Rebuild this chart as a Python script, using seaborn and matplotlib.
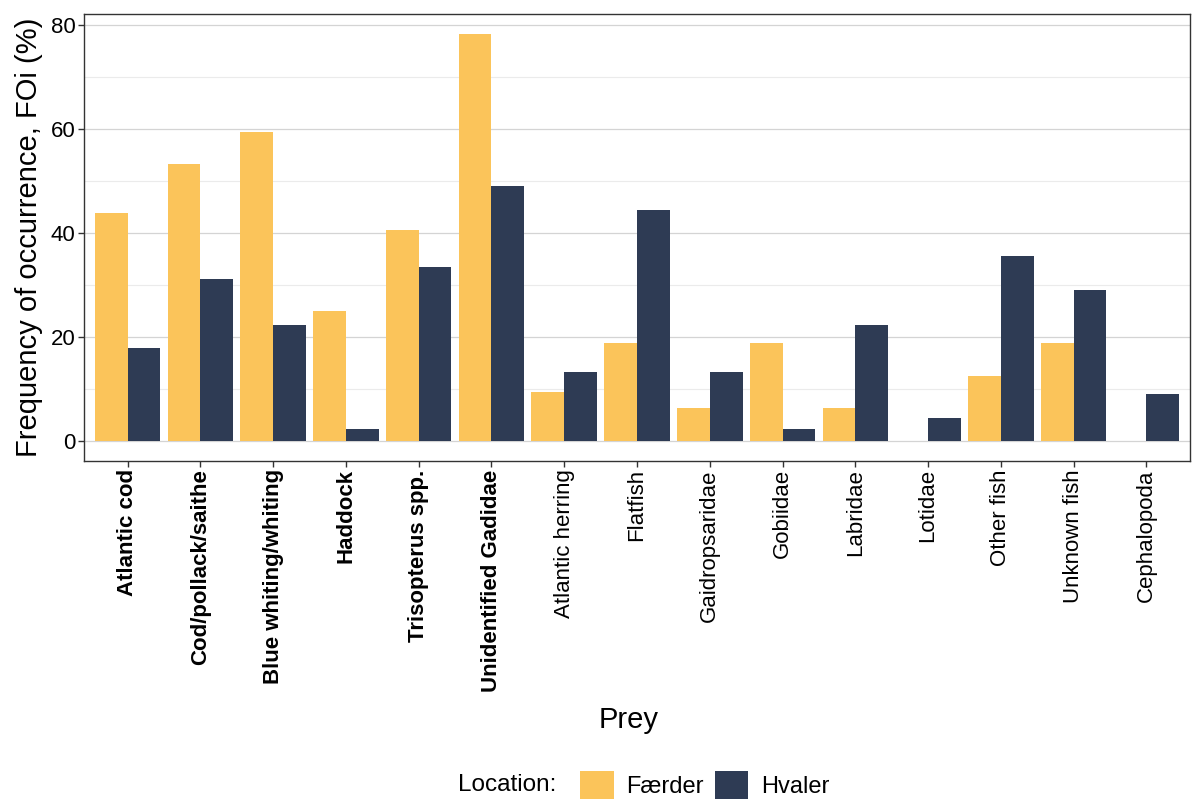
import pandas as pd
import matplotlib.pyplot as plt
import seaborn as sns
from matplotlib.patches import Patch
from matplotlib.ticker import MultipleLocator

# ----------------------------
# DATA
# ----------------------------
prey = ["Atlantic cod", "Cod/pollack/saithe", "Blue whiting/whiting", "Haddock",
        "Trisopterus spp.", "Unidentified Gadidae", "Atlantic herring", "Flatfish",
        "Gaidropsaridae", "Gobiidae", "Labridae", "Lotidae", "Other fish",
        "Unknown fish", "Cephalopoda"]
faerder = [43.75, 53.1, 59.4, 25.0, 40.6, 78.1, 9.4, 18.75, 6.25, 18.75, 6.25, 0.0, 12.5, 18.75, 0.0]
hvaler = [17.8, 31.1, 22.2, 2.2, 33.3, 48.9, 13.3, 44.4, 13.3, 2.2, 22.2, 4.4, 35.6, 28.9, 8.9]
locations = ["Færder", "Hvaler"]
bold_prey = prey[:6]

df = pd.DataFrame({
    "Prey": prey * 2,
    "FOi": faerder + hvaler,
    "Location": [locations[0]] * len(prey) + [locations[1]] * len(prey),
})

colors = ["#FBC45A", "#2E3B54"]

# ----------------------------
# PLOT
# ----------------------------
sns.set_style("white")
plt.rcParams["font.family"] = ["Liberation Sans", "DejaVu Sans"]
plt.rcParams["text.color"] = "black"
plt.rcParams["axes.labelcolor"] = "black"

fig = plt.figure(figsize=(11.95, 7.99), dpi=100)
ax = fig.add_axes([84 / 1195, 1 - 461 / 799, (1190 - 84) / 1195, (461 - 14) / 799])

sns.barplot(data=df, x="Prey", y="FOi", hue="Location", order=prey,
            hue_order=locations, palette=colors, saturation=1, width=0.9,
            gap=0, linewidth=0, legend=False, ax=ax)

ax.set_xlim(-0.6, len(prey) - 0.4)
ax.set_ylim(-3.9, 82.03)
ax.yaxis.set_major_locator(MultipleLocator(20))
ax.yaxis.set_minor_locator(MultipleLocator(10))
ax.grid(axis="y", which="major", color="#D4D4D4", linewidth=0.9)
ax.grid(axis="y", which="minor", color="#EBEBEB", linewidth=0.8)
ax.set_axisbelow(True)

for s in ax.spines.values():
    s.set_color("#333333")
    s.set_linewidth(1.0)

ax.tick_params(axis="both", which="major", length=4, width=1, color="#333333",
               labelsize=16, labelcolor="black", direction="out",
               bottom=True, left=True)
ax.tick_params(axis="y", which="minor", length=0)
ax.tick_params(axis="x", pad=2)
ax.tick_params(axis="y", pad=2)
ax.set_xticks(range(len(prey)))
ax.set_xticklabels(prey, rotation=90, ha="center", va="top")
for lab in ax.get_xticklabels():
    if lab.get_text() in bold_prey:
        lab.set_fontweight("bold")

ax.set_xlabel("Prey", fontsize=21)
ax.set_ylabel("Frequency of occurrence, FOi (%)", fontsize=21, labelpad=6)
ax.xaxis.set_label_coords(0.492, -0.548)

# legend at the bottom
fig.text(458 / 1195, 1 - 785 / 799, "Location:", fontsize=17.5, ha="left", va="center")
handles = [Patch(facecolor=c, edgecolor="none") for c in colors]
fig.legend(handles, locations, loc="center left", bbox_to_anchor=(571 / 1195, 1 - 785 / 799),
           ncol=2, frameon=False, fontsize=17, handlelength=1.4, handleheight=1.4,
           handletextpad=0.55, columnspacing=0.45, borderaxespad=0)

plt.savefig("out.png", dpi=100)
